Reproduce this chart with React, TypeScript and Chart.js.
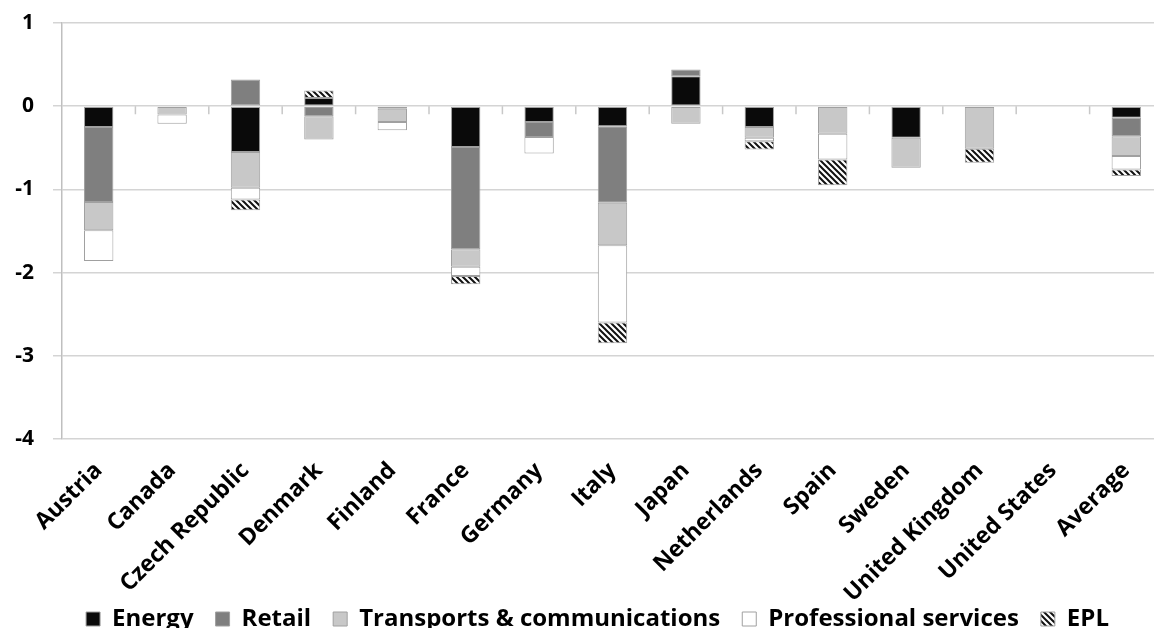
import React, { useEffect, useRef } from 'react';
import { Chart, registerables } from 'chart.js';
Chart.register(...registerables);

const categories = ['Austria', 'Canada', 'Czech Republic', 'Denmark', 'Finland', 'France', 'Germany', 'Italy', 'Japan', 'Netherlands', 'Spain', 'Sweden', 'United Kingdom', 'United States', 'Average'];
const energy = [-0.25, null, -0.55, 0.1, null, -0.49, -0.19, -0.24, 0.36, -0.25, null, -0.38, null, null, -0.14];
const retail = [-0.9, -0.01, 0.32, -0.12, -0.03, -1.23, -0.18, -0.92, 0.08, null, null, null, null, null, -0.22];
const transport = [-0.34, -0.09, -0.43, -0.28, -0.16, -0.21, null, -0.51, -0.21, -0.13, -0.33, -0.36, -0.51, null, -0.24];
const professional = [-0.37, -0.11, -0.14, null, -0.1, -0.11, -0.2, -0.93, null, -0.04, -0.31, null, null, null, -0.16];
const epl = [null, null, -0.13, 0.09, null, -0.1, null, -0.25, null, -0.1, -0.31, null, -0.17, null, -0.08];
const seriesNames = ['Energy', 'Retail', 'Transports & communications', 'Professional services', 'EPL'];
const yTicks = [1, 0, -1, -2, -3, -4];

const FONT = '"Open Sans"';

function makeHatch(): CanvasPattern | string {
  const c = document.createElement('canvas');
  c.width = 6;
  c.height = 6;
  const ctx = c.getContext('2d');
  if (!ctx) return '#555';
  ctx.fillStyle = '#ffffff';
  ctx.fillRect(0, 0, 6, 6);
  ctx.strokeStyle = '#111111';
  ctx.lineWidth = 2;
  ctx.beginPath();
  ctx.moveTo(-1, -1); ctx.lineTo(7, 7);
  ctx.moveTo(-1, 5); ctx.lineTo(1, 7);
  ctx.moveTo(5, -1); ctx.lineTo(7, 1);
  ctx.stroke();
  return ctx.createPattern(c, 'repeat') || '#555';
}

const zeroTicks = {
  id: 'zeroTicks',
  beforeDatasetsDraw(chart: any) {
    const x = chart.scales.x;
    const y = chart.scales.y;
    const ctx = chart.ctx;
    const y0 = y.getPixelForValue(0);
    ctx.save();
    ctx.strokeStyle = '#c8c8c8';
    ctx.lineWidth = 1.5;
    ctx.beginPath();
    for (let i = 0; i < categories.length - 1; i++) {
      const px = (x.getPixelForValue(i) + x.getPixelForValue(i + 1)) / 2;
      ctx.moveTo(px, y0);
      ctx.lineTo(px, y0 + 8);
    }
    ctx.stroke();
    ctx.restore();
  },
};

export default function App() {
  const ref = useRef<HTMLCanvasElement>(null);
  useEffect(() => {
    if (!ref.current) return;
    const hatch = makeHatch();
    const fills = ['#0a0a0a', '#7f7f7f', '#c8c8c8', '#ffffff', hatch];
    const values = [energy, retail, transport, professional, epl];
    const chart = new Chart(ref.current, {
      type: 'bar',
      data: {
        labels: categories,
        datasets: seriesNames.map((name, i) => ({
          label: name,
          data: values[i],
          backgroundColor: fills[i] as any,
          borderColor: '#a0a0a0',
          borderWidth: 1,
          borderSkipped: false,
          categoryPercentage: 1,
          barPercentage: 0.4,
          stack: 's',
        })),
      },
      options: {
        animation: false,
        responsive: true,
        maintainAspectRatio: false,
        layout: { padding: { top: 23, right: 1, left: 32, bottom: 2 } },
        plugins: {
          tooltip: { enabled: false },
          legend: {
            position: 'bottom',
            labels: {
              boxWidth: 14,
              boxHeight: 14,
              padding: 22,
              color: '#000',
              font: { family: FONT, size: 24, weight: 'bold' },
            },
          },
        },
        scales: {
          x: {
            stacked: true,
            grid: { display: false },
            border: { display: false },
            ticks: {
              maxRotation: 45,
              minRotation: 45,
              autoSkip: false,
              padding: 10,
              color: '#000',
              font: { family: FONT, size: 23, weight: 'bold' },
            },
            afterFit: (s: any) => {
              s.height = 146;
              s._computeLabelArea = () => undefined;
            },
          },
          y: {
            stacked: true,
            min: -4,
            max: 1,
            afterBuildTicks: (s: any) => { s.ticks = yTicks.map((v) => ({ value: v })); },
            ticks: {
              color: '#000',
              padding: 19,
              font: { family: FONT, size: 21, weight: 'bold' },
            },
            grid: { color: '#d4d4d4', lineWidth: 1.5, tickLength: 9 },
            border: { display: true, color: '#bfbfbf', width: 1.5 },
            afterFit: (s: any) => {
              s.width = 30;
              s.paddingTop = 12;
              s.paddingBottom = 12;
              s._computeLabelArea = () => undefined;
            },
          },
        },
      },
      plugins: [zeroTicks],
    });
    return () => chart.destroy();
  }, []);
  return (
    <div style={{ position: 'fixed', left: 0, top: 0, width: 1154, height: 628, overflow: 'hidden', background: '#fff' }}>
      <div style={{ position: 'relative', width: 1164, height: 643 }}>
        <canvas ref={ref} />
      </div>
    </div>
  );
}
